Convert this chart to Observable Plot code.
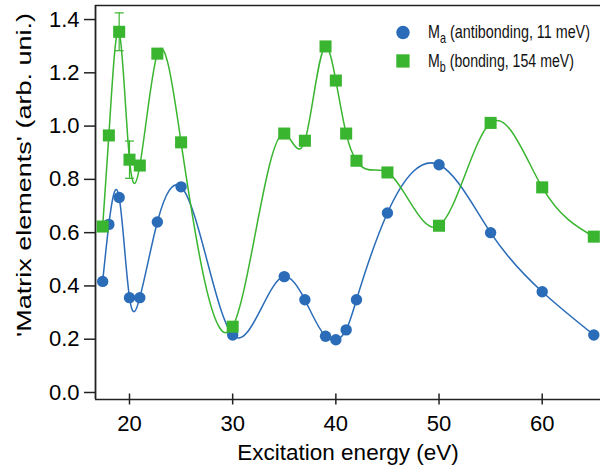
<!DOCTYPE html>
<html>
<head>
<meta charset="utf-8">
<script src="https://cdn.jsdelivr.net/npm/d3@7"></script>
<script src="https://cdn.jsdelivr.net/npm/@observablehq/plot@0.6"></script>
<style>
  body { margin: 0; background: #fff; }
  svg { display: block; }
</style>
</head>
<body>
<div id="chart"></div>
<script>
// Excitation energies (eV) at which both matrix elements were measured
const energy = [17.4, 18, 19, 20, 21, 22.7, 25, 30, 35, 37, 39, 40, 41, 42, 45, 50, 55, 60, 65];
// M_a, antibonding band (11 meV)
const antibonding = [0.417, 0.631, 0.732, 0.356, 0.356, 0.64, 0.772, 0.216, 0.435, 0.348, 0.211, 0.198, 0.235, 0.348, 0.674, 0.855, 0.60, 0.378, 0.216];
// M_b, bonding band (154 meV)
const bonding = [0.623, 0.965, 1.354, 0.874, 0.852, 1.272, 0.939, 0.247, 0.972, 0.945, 1.299, 1.171, 0.972, 0.87, 0.826, 0.626, 1.012, 0.77, 0.585];
// error bars on the bonding series
const errorEnergy = [19, 20];
const bondingError = [0.071, 0.07];

const xTicks = [20, 30, 40, 50, 60];
const yTicks = [0, 0.2, 0.4, 0.6, 0.8, 1.0, 1.2, 1.4];
const xDomain = [16.705, 65.65];
const yDomain = [-0.0263, 1.4527];

const xLabel = "Excitation energy (eV)";
const yLabel = "'Matrix elements' (arb. uni.)";
const legendItems = [
  {name: "M", sub: "a", detail: " (antibonding, 11 meV)"},
  {name: "M", sub: "b", detail: " (bonding, 154 meV)"}
];

const blue = "#2a6cb8";
const green = "#3ab530";
const ink = "#222";

const rowsA = energy.map((e, i) => ({energy: e, value: antibonding[i]}));
const rowsB = energy.map((e, i) => ({energy: e, value: bonding[i]}));
const errRows = errorEnergy.map((e, i) => {
  const v = bonding[energy.indexOf(e)];
  return {energy: e, lo: v - bondingError[i], hi: v + bondingError[i]};
});

// Natural cubic spline with y as a function of x, drawn as exact Bézier segments.
function curveSplineX(context) {
  let xs, ys;
  return {
    areaStart() {}, areaEnd() {},
    lineStart() { xs = []; ys = []; },
    point(x, y) { xs.push(+x); ys.push(+y); },
    lineEnd() {
      const n = xs.length;
      if (!n) return;
      context.moveTo(xs[0], ys[0]);
      if (n === 2) { context.lineTo(xs[1], ys[1]); return; }
      if (n < 2) return;
      const h = [], M = new Array(n).fill(0);
      for (let i = 0; i < n - 1; i++) h.push(xs[i + 1] - xs[i]);
      // tridiagonal system for the second derivatives (M[0] = M[n-1] = 0)
      const a = [], b = [], c = [], r = [];
      for (let i = 1; i < n - 1; i++) {
        a.push(h[i - 1]);
        b.push(2 * (h[i - 1] + h[i]));
        c.push(h[i]);
        r.push(6 * ((ys[i + 1] - ys[i]) / h[i] - (ys[i] - ys[i - 1]) / h[i - 1]));
      }
      const m = b.length;
      for (let i = 1; i < m; i++) {
        const w = a[i] / b[i - 1];
        b[i] -= w * c[i - 1];
        r[i] -= w * r[i - 1];
      }
      const sol = new Array(m);
      sol[m - 1] = r[m - 1] / b[m - 1];
      for (let i = m - 2; i >= 0; i--) sol[i] = (r[i] - c[i] * sol[i + 1]) / b[i];
      for (let i = 0; i < m; i++) M[i + 1] = sol[i];
      // first derivatives at the knots
      const d = new Array(n);
      for (let i = 0; i < n - 1; i++) d[i] = (ys[i + 1] - ys[i]) / h[i] - h[i] * (2 * M[i] + M[i + 1]) / 6;
      const k = n - 2;
      d[n - 1] = (ys[n - 1] - ys[k]) / h[k] + h[k] * (M[k] + 2 * M[n - 1]) / 6;
      for (let i = 0; i < n - 1; i++) {
        const t = h[i] / 3;
        context.bezierCurveTo(xs[i] + t, ys[i] + d[i] * t, xs[i + 1] - t, ys[i + 1] - d[i + 1] * t, xs[i + 1], ys[i + 1]);
      }
    }
  };
}

// horizontal cap for the error bars; half-width equals the dot radius
const cap = {
  draw(ctx, size) {
    const hw = Math.sqrt(size / Math.PI);
    ctx.moveTo(-hw, 0);
    ctx.lineTo(hw, 0);
  }
};

const chart = Plot.plot({
  width: 600,
  height: 470,
  marginLeft: 95,
  marginRight: 0,
  marginTop: 5,
  marginBottom: 71,
  x: {domain: xDomain},
  y: {domain: yDomain},
  style: {fontFamily: "'Liberation Sans', Arial, sans-serif", fontSize: "22px", color: "#000", background: "#fff"},
  marks: [
    Plot.ruleY([yDomain[1]], {stroke: ink, strokeWidth: 1.6}),
    Plot.ruleY([yDomain[0]], {stroke: ink, strokeWidth: 1.6}),
    Plot.ruleX([xDomain[0]], {stroke: ink, strokeWidth: 1.8}),
    Plot.axisY({ticks: yTicks, tickSize: 11, tickPadding: 5, tickFormat: d3.format(".1f"), label: null, stroke: ink, strokeWidth: 1.5}),
    Plot.axisX({ticks: xTicks, tickSize: 11, dy: -5.5, tickFormat: () => "", label: null, stroke: ink, strokeWidth: 1.5}),
    Plot.axisX({ticks: xTicks, tickSize: 0, tickPadding: 16, label: null}),
    Plot.line(rowsA, {x: "energy", y: "value", stroke: blue, strokeWidth: 1.5, curve: curveSplineX}),
    Plot.line(rowsB, {x: "energy", y: "value", stroke: green, strokeWidth: 1.5, curve: curveSplineX}),
    Plot.ruleX(errRows, {x: "energy", y1: "lo", y2: "hi", stroke: green, strokeWidth: 1.2}),
    Plot.dot(errRows, {x: "energy", y: "lo", symbol: cap, r: 4.5, stroke: green, strokeWidth: 1.2}),
    Plot.dot(errRows, {x: "energy", y: "hi", symbol: cap, r: 4.5, stroke: green, strokeWidth: 1.2}),
    Plot.dot(rowsA, {x: "energy", y: "value", r: 5.7, fill: blue}),
    Plot.dot(rowsB, {x: "energy", y: "value", symbol: "square", r: 6.8, fill: green})
  ]
});

document.getElementById("chart").append(chart);

const svg = d3.select(chart);
const font = "'Liberation Sans', Arial, sans-serif";

// axis titles
svg.append("text")
  .attr("x", 348).attr("y", 460)
  .attr("text-anchor", "middle")
  .attr("font-family", font).attr("font-size", 22.5).attr("fill", "#000")
  .text(xLabel);

svg.append("text")
  .attr("transform", "translate(31,175) rotate(-90)")
  .attr("text-anchor", "middle")
  .attr("font-family", font).attr("font-size", 21).attr("fill", "#000")
  .attr("textLength", 324).attr("lengthAdjust", "spacingAndGlyphs")
  .text(yLabel);

// legend: symbol plus condensed label for each series
const legend = svg.append("g")
  .attr("font-family", font)
  .attr("fill", "#111")
  .attr("text-anchor", "start");
legend.append("circle").attr("cx", 403).attr("cy", 32.5).attr("r", 6.7).attr("fill", blue);
legend.append("rect").attr("x", 396.3).attr("y", 54.3).attr("width", 13.3).attr("height", 13.3).attr("fill", green);
const lengths = [162, 146];
const baselines = [38.4, 66.7];
legendItems.forEach((item, i) => {
  const t = legend.append("text").attr("font-size", 18.5).attr("text-anchor", "start");
  t.append("tspan").text(item.name);
  t.append("tspan").attr("dy", 5).attr("font-size", 14).text(item.sub);
  t.append("tspan").attr("dy", -5).text(item.detail.replace(" ", "\u00a0"));
  const natural = t.node().getComputedTextLength() || lengths[i];
  t.attr("transform", `translate(428,${baselines[i]}) scale(${lengths[i] / natural},1)`);
});
</script>
</body>
</html>
